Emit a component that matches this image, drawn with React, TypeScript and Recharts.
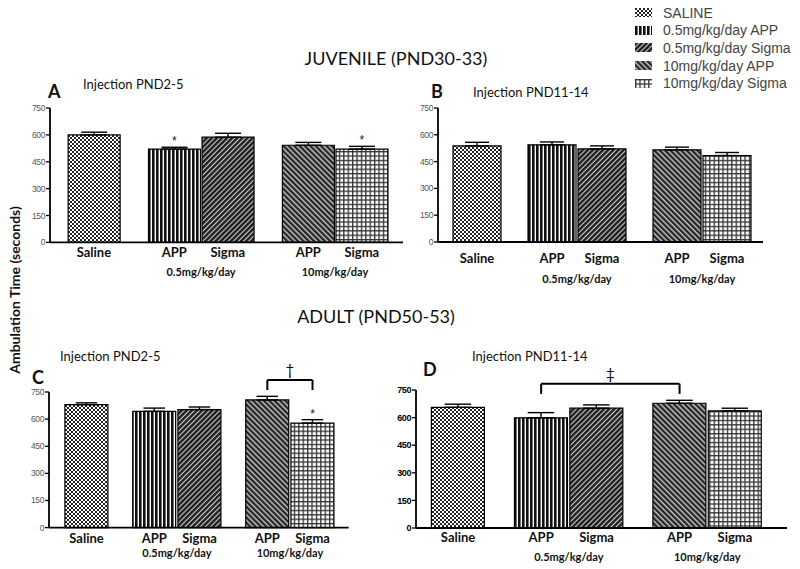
import { BarChart, Bar, XAxis, YAxis, ErrorBar, Cell, ReferenceLine, ReferenceDot } from "recharts"

const treatments = ["Saline", "APP", "Sigma", "APP", "Sigma"]
const doseGroups = [
  { label: "", size: 1 },
  { label: "0.5mg/kg/day", size: 2 },
  { label: "10mg/kg/day", size: 2 },
]
const legendLabels = ["SALINE", "0.5mg/kg/day APP", "0.5mg/kg/day Sigma", "10mg/kg/day APP", "10mg/kg/day Sigma"]
const patternIds = ["saline", "appLow", "sigmaLow", "appHigh", "sigmaHigh"]
const yTicks = [0, 150, 300, 450, 600, 750]

// juvenile, injection PND2-5
const juvEarlyMean = [600, 521, 587, 542, 521]
const juvEarlyErr = [15, 10, 22, 16, 15]
const juvEarlySig = ["", "*", "", "", "*"]
// juvenile, injection PND11-14
const juvLateMean = [538, 544, 521, 516, 484]
const juvLateErr = [20, 16, 17, 15, 17]
const juvLateSig = ["", "", "", "", ""]
// adult, injection PND2-5
const adultEarlyMean = [680, 643, 653, 706, 578]
const adultEarlyErr = [10, 18, 14, 20, 19]
const adultEarlySig = ["", "", "", "", "*"]
const adultEarlyBracket = { from: 3, to: 4, mark: "†" }
// adult, injection PND11-14
const adultLateMean = [656, 599, 651, 678, 637]
const adultLateErr = [17, 28, 18, 16, 14]
const adultLateSig = ["", "", "", "", ""]
const adultLateBracket = { from: 1, to: 3, mark: "‡" }

const GROUP_GAP = 0.5

// bar slots on the x axis come from the group structure
const positions: number[] = []
const groupCenters: { at: number; label: string }[] = []
{
  let offset = 0
  doseGroups.forEach((g) => {
    const start = offset
    for (let i = 0; i < g.size; i++) positions.push(offset + i)
    if (g.label) groupCenters.push({ at: start + (g.size - 1) / 2, label: g.label })
    offset += g.size + GROUP_GAP
  })
}

const CAL = "Lato, 'Open Sans', sans-serif"

const panels = [
  {
    letter: "A", sub: "Injection PND2-5",
    mean: juvEarlyMean, err: juvEarlyErr, sig: juvEarlySig, bracket: null as any,
    plotLeft: 50, plotRight: 403, y750: 108.3, y0: 242.7, domain: [-0.82, 5.77],
    labelDy: 10, groupDy: 29, boldTicks: false,
    letterPos: [48, 82], subPos: [83, 78],
  },
  {
    letter: "B", sub: "Injection PND11-14",
    mean: juvLateMean, err: juvLateErr, sig: juvLateSig, bracket: null as any,
    plotLeft: 438, plotRight: 763, y750: 108.3, y0: 242.3, domain: [-0.78, 5.72],
    labelDy: 16, groupDy: 36, boldTicks: false,
    letterPos: [431, 82], subPos: [473, 86],
  },
  {
    letter: "C", sub: "Injection PND2-5",
    mean: adultEarlyMean, err: adultEarlyErr, sig: adultEarlySig, bracket: adultEarlyBracket,
    plotLeft: 49.3, plotRight: 349, y750: 391.7, y0: 527.3, domain: [-0.83, 5.8],
    labelDy: 10, groupDy: 25, boldTicks: false,
    letterPos: [32, 368], subPos: [60, 350],
  },
  {
    letter: "D", sub: "Injection PND11-14",
    mean: adultLateMean, err: adultLateErr, sig: adultLateSig, bracket: adultLateBracket,
    plotLeft: 416, plotRight: 787, y750: 389.5, y0: 527.5, domain: [-0.76, 5.94],
    labelDy: 9, groupDy: 28, boldTicks: true,
    letterPos: [423, 360], subPos: [472, 350],
  },
]

function Patterns() {
  return (
    <svg width={0} height={0} style={{ position: "absolute" }}>
      <defs>
        <pattern id="saline" width={4} height={4} patternUnits="userSpaceOnUse">
          <rect width={4} height={4} fill="#fff" />
          <rect width={2} height={2} fill="#222" />
          <rect x={2} y={2} width={2} height={2} fill="#222" />
        </pattern>
        <pattern id="appLow" width={4} height={4} patternUnits="userSpaceOnUse">
          <rect width={4} height={4} fill="#fff" />
          <rect width={2.6} height={4} fill="#111" />
        </pattern>
        <pattern id="sigmaLow" width={3.6} height={3.6} patternUnits="userSpaceOnUse" patternTransform="rotate(45)">
          <rect width={3.6} height={3.6} fill="#d0d0d0" />
          <rect width={2.5} height={3.6} fill="#1e1e1e" />
        </pattern>
        <pattern id="appHigh" width={3.8} height={3.8} patternUnits="userSpaceOnUse" patternTransform="rotate(-45)">
          <rect width={3.8} height={3.8} fill="#c8c8c8" />
          <rect width={2.4} height={3.8} fill="#262626" />
        </pattern>
        <pattern id="sigmaHigh" width={4.4} height={4.4} patternUnits="userSpaceOnUse">
          <rect width={4.4} height={4.4} fill="#333" />
          <rect x={1.3} y={1.3} width={3.1} height={3.1} fill="#fff" />
        </pattern>
      </defs>
    </svg>
  )
}

function Panel({ p }: { p: (typeof panels)[number] }) {
  const rows = treatments.map((t, i) => ({
    name: t,
    pos: positions[i],
    value: p.mean[i],
    errRange: [0, p.err[i]],
  }))
  const unit = (p.plotRight - p.plotLeft) / (p.domain[1] - p.domain[0])
  const barSize = Math.round(unit - 2)
  const chartLeft = p.plotLeft - 50
  const chartTop = p.y750 - 45
  const width = p.plotRight - chartLeft + 12
  const height = p.y0 - chartTop + 50

  const tickText = new Map<number, { text: string; group: boolean }>()
  positions.forEach((x, i) => tickText.set(x, { text: treatments[i], group: false }))
  groupCenters.forEach((g) => tickText.set(g.at, { text: g.label, group: true }))

  const XTick = (props: any) => {
    const { x, y, payload } = props
    const item = tickText.get(payload.value)
    if (!item) return null
    return (
      <text
        x={x}
        y={y + (item.group ? p.groupDy : p.labelDy)}
        textAnchor="middle"
        dominantBaseline="central"
        fontFamily={CAL}
        fontWeight={700}
        fontSize={item.group ? 11 : 13}
        fill="#111"
      >
        {item.text}
      </text>
    )
  }

  const b = p.bracket
  const level = b ? Math.max(p.mean[b.from] + p.err[b.from], p.mean[b.to] + p.err[b.to]) + 90 : 0
  const drop = 55

  return (
    <div style={{ position: "absolute", left: chartLeft, top: chartTop }}>
      <BarChart width={width} height={height} data={rows} margin={{ top: 45, right: 12, bottom: 0, left: 0 }}>
        <XAxis
          dataKey="pos"
          type="number"
          domain={p.domain}
          allowDataOverflow
          ticks={[...positions, ...groupCenters.map((g) => g.at)]}
          interval={0}
          tickLine={false}
          tickSize={0}
          tickMargin={0}
          tick={<XTick />}
          axisLine={{ stroke: "#000", strokeWidth: 1.8 }}
          height={50}
        />
        <YAxis
          domain={[0, 750]}
          ticks={yTicks}
          interval={0}
          width={50}
          tickSize={4}
          tickMargin={1}
          axisLine={{ stroke: "#000", strokeWidth: 1.8 }}
          tickLine={{ stroke: "#000", strokeWidth: 1.3 }}
          tick={{
            fontSize: p.boldTicks ? 9 : 8.5,
            fontWeight: p.boldTicks ? 700 : 400,
            fill: p.boldTicks ? "#000" : "#555",
            fontFamily: "'Liberation Sans', Arial, sans-serif",
            letterSpacing: -0.4,
          }}
        />
        <Bar dataKey="value" barSize={barSize} stroke="#000" strokeWidth={1.2} isAnimationActive={false}>
          {rows.map((r, i) => (
            <Cell key={i} fill={`url(#${patternIds[i]})`} />
          ))}
          <ErrorBar dataKey="errRange" width={barSize / 4} stroke="#000" strokeWidth={1.4} direction="y" />
        </Bar>
        {p.sig.map((s, i) =>
          s ? (
            <ReferenceDot
              key={`s${i}`}
              x={positions[i]}
              y={p.mean[i] + p.err[i]}
              r={0}
              ifOverflow="visible"
              shape={(d: any) => (
                <text x={d.cx} y={d.cy - 2} textAnchor="middle" fontSize={12} fontFamily="Arial, sans-serif" fill="#222">
                  {s}
                </text>
              )}
            />
          ) : null
        )}
        {b && (
          <ReferenceLine
            segment={[{ x: positions[b.from], y: level }, { x: positions[b.to], y: level }]}
            stroke="#000"
            strokeWidth={2}
            ifOverflow="visible"
          />
        )}
        {b && (
          <ReferenceLine
            segment={[{ x: positions[b.from], y: level }, { x: positions[b.from], y: level - drop }]}
            stroke="#000"
            strokeWidth={2}
            ifOverflow="visible"
          />
        )}
        {b && (
          <ReferenceLine
            segment={[{ x: positions[b.to], y: level }, { x: positions[b.to], y: level - drop }]}
            stroke="#000"
            strokeWidth={2}
            ifOverflow="visible"
          />
        )}
        {b && (
          <ReferenceDot
            x={(positions[b.from] + positions[b.to]) / 2}
            y={level}
            r={0}
            ifOverflow="visible"
            shape={(d: any) => (
              <text x={d.cx} y={d.cy - 5} textAnchor="middle" fontSize={15} fontFamily={CAL} fill="#000">
                {b.mark}
              </text>
            )}
          />
        )}
      </BarChart>
    </div>
  )
}

const textBase: React.CSSProperties = { position: "absolute", lineHeight: 1, whiteSpace: "nowrap", fontFamily: CAL, color: "#111" }

export default function App() {
  return (
    <div style={{ position: "absolute", left: 0, top: 0, width: 800, height: 569, background: "#fff", overflow: "hidden" }}>
      <Patterns />
      {panels.map((p) => (
        <Panel key={p.letter} p={p} />
      ))}
      {panels.map((p) => (
        <div key={`l${p.letter}`}>
          <div style={{ ...textBase, left: p.letterPos[0], top: p.letterPos[1], fontSize: 18, fontWeight: 700 }}>{p.letter}</div>
          <div style={{ ...textBase, left: p.subPos[0], top: p.subPos[1], fontSize: 13 }}>{p.sub}</div>
        </div>
      ))}
      <div style={{ ...textBase, left: 296, width: 200, textAlign: "center", top: 48.5, fontSize: 18 }}>JUVENILE (PND30-33)</div>
      <div style={{ ...textBase, left: 276, width: 200, textAlign: "center", top: 307, fontSize: 18 }}>ADULT (PND50-53)</div>
      <div
        style={{
          ...textBase,
          left: 15 - 110,
          top: 290 - 10,
          width: 220,
          height: 20,
          lineHeight: "20px",
          textAlign: "center",
          fontSize: 14,
          fontWeight: 700,
          transform: "rotate(-90deg)",
        }}
      >
        Ambulation Time (seconds)
      </div>
      {legendLabels.map((label, i) => (
        <div
          key={label}
          style={{ position: "absolute", left: 635, top: 12.5 + i * 17.7 - 8, height: 16, display: "flex", alignItems: "center" }}
        >
          <svg width={17} height={9} style={{ display: "block" }}>
            <rect width={17} height={9} fill={`url(#${patternIds[i]})`} />
          </svg>
          <span
            style={{
              marginLeft: 11,
              fontFamily: "'Liberation Sans', Arial, sans-serif",
              fontSize: 14,
              lineHeight: "16px",
              color: "#444",
              whiteSpace: "nowrap",
            }}
          >
            {label}
          </span>
        </div>
      ))}
    </div>
  )
}
